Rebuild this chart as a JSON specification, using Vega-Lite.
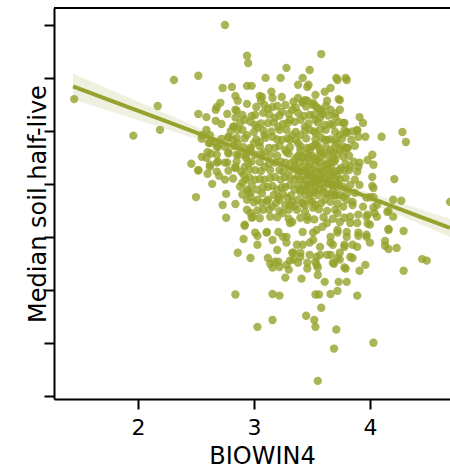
{
  "$schema": "https://vega.github.io/schema/vega-lite/v6.json",
  "autosize": "none",
  "width": 396,
  "height": 391,
  "padding": {"left": 54, "top": 8, "right": 0, "bottom": 67},
  "background": "white",
  "config": {
    "view": {"stroke": null},
    "axis": {
      "domainColor": "#000000", "domainWidth": 2,
      "tickColor": "#000000", "tickWidth": 2, "tickSize": 10,
      "grid": false,
      "labelFont": "DejaVu Sans", "labelFontSize": 22, "labelColor": "#000000",
      "titleFont": "DejaVu Sans", "titleFontSize": 24, "titleFontWeight": "normal", "titleColor": "#000000"
    }
  },
  "datasets": {
    "pts": [
      {"x":1.45,"y":5.60},{"x":1.96,"y":4.91},{"x":2.17,"y":5.47},{"x":2.19,"y":5.02},{"x":2.31,"y":5.96},{"x":2.52,"y":6.04},{"x":2.75,"y":7.00},{"x":2.94,"y":6.42},{"x":2.95,"y":6.28},{"x":3.58,"y":6.45},
      {"x":3.28,"y":6.19},{"x":3.48,"y":6.15},{"x":3.10,"y":6.00},{"x":3.23,"y":6.00},{"x":3.42,"y":6.00},{"x":3.71,"y":6.00},{"x":3.79,"y":6.00},{"x":2.73,"y":5.81},{"x":2.81,"y":5.83},{"x":2.94,"y":5.85},
      {"x":2.98,"y":5.85},{"x":3.38,"y":5.87},{"x":3.46,"y":5.83},{"x":3.47,"y":5.87},{"x":2.84,"y":5.66},{"x":2.71,"y":5.53},{"x":2.68,"y":5.45},{"x":2.67,"y":5.40},{"x":2.86,"y":5.57},{"x":2.52,"y":5.32},
      {"x":2.59,"y":5.26},{"x":2.77,"y":5.32},{"x":2.84,"y":5.40},{"x":2.67,"y":5.19},{"x":2.72,"y":5.13},{"x":2.84,"y":5.25},{"x":2.59,"y":5.02},{"x":2.83,"y":5.08},{"x":3.05,"y":5.66},{"x":3.06,"y":5.57},
      {"x":3.15,"y":5.74},{"x":3.16,"y":5.62},{"x":3.24,"y":5.64},{"x":3.38,"y":5.62},{"x":3.42,"y":5.55},{"x":3.46,"y":5.57},{"x":3.63,"y":5.57},{"x":3.74,"y":5.58},{"x":3.53,"y":5.47},{"x":3.57,"y":5.40},
      {"x":3.59,"y":5.32},{"x":3.91,"y":5.26},{"x":3.94,"y":5.15},{"x":3.78,"y":5.15},{"x":3.89,"y":5.00},{"x":3.80,"y":4.98},{"x":4.10,"y":4.89},{"x":4.28,"y":4.98},{"x":4.31,"y":4.79},{"x":4.21,"y":4.09},
      {"x":4.20,"y":3.70},{"x":4.27,"y":3.68},{"x":4.69,"y":3.66},{"x":4.02,"y":3.96},{"x":4.03,"y":3.92},{"x":3.91,"y":3.98},{"x":3.97,"y":3.74},{"x":4.03,"y":3.55},{"x":3.98,"y":3.42},{"x":4.06,"y":3.38},
      {"x":4.15,"y":3.47},{"x":4.16,"y":3.49},{"x":4.20,"y":3.38},{"x":3.98,"y":3.25},{"x":4.16,"y":3.13},{"x":4.16,"y":3.15},{"x":4.29,"y":3.11},{"x":3.97,"y":3.00},{"x":3.90,"y":3.02},{"x":4.13,"y":2.92},
      {"x":4.13,"y":2.83},{"x":4.16,"y":2.77},{"x":4.23,"y":2.79},{"x":3.85,"y":2.85},{"x":4.45,"y":2.58},{"x":4.49,"y":2.55},{"x":3.78,"y":2.81},{"x":4.29,"y":2.36},{"x":3.96,"y":2.47},{"x":3.91,"y":2.36},
      {"x":3.79,"y":2.40},{"x":3.69,"y":2.49},{"x":3.73,"y":2.15},{"x":3.80,"y":2.15},{"x":3.89,"y":1.89},{"x":3.72,"y":1.98},{"x":3.66,"y":1.92},{"x":3.61,"y":2.15},{"x":3.53,"y":1.91},{"x":3.56,"y":1.91},
      {"x":3.58,"y":1.66},{"x":3.55,"y":2.28},{"x":3.41,"y":2.21},{"x":3.46,"y":2.40},{"x":3.27,"y":2.23},{"x":3.30,"y":2.38},{"x":3.16,"y":1.92},{"x":3.22,"y":1.89},{"x":3.16,"y":1.43},{"x":3.03,"y":1.30},
      {"x":3.45,"y":1.51},{"x":3.52,"y":1.43},{"x":3.53,"y":1.30},{"x":3.71,"y":1.25},{"x":3.69,"y":0.89},{"x":4.03,"y":1.00},{"x":3.55,"y":0.28},{"x":2.84,"y":1.91},{"x":2.97,"y":2.60},{"x":2.91,"y":2.96},
      {"x":2.92,"y":3.21},{"x":2.76,"y":3.36},{"x":2.73,"y":3.60},{"x":2.84,"y":3.62},{"x":2.76,"y":3.81},{"x":2.50,"y":3.75},{"x":2.46,"y":4.38},{"x":2.52,"y":4.25},{"x":2.59,"y":4.49},{"x":2.63,"y":4.57},
      {"x":2.68,"y":4.40},{"x":2.62,"y":4.32},{"x":2.60,"y":4.19},{"x":2.68,"y":4.23},{"x":2.70,"y":4.15},{"x":2.64,"y":4.00},{"x":2.55,"y":4.85},{"x":2.61,"y":4.77},{"x":2.68,"y":4.70},{"x":2.78,"y":4.89},
      {"x":2.85,"y":4.87},{"x":2.77,"y":4.40},{"x":2.84,"y":4.32},{"x":2.89,"y":4.23},{"x":2.91,"y":4.17},{"x":2.93,"y":4.08},{"x":2.90,"y":4.02},{"x":2.94,"y":3.89},{"x":2.94,"y":3.70},{"x":2.97,"y":3.75},
      {"x":2.97,"y":3.45},{"x":2.98,"y":3.36},{"x":2.87,"y":4.55},{"x":2.93,"y":4.49},{"x":2.98,"y":4.42},{"x":2.97,"y":4.64},{"x":3.00,"y":4.77},{"x":3.12,"y":2.60},{"x":3.14,"y":2.49},{"x":3.18,"y":2.53},
      {"x":3.16,"y":2.42},{"x":3.22,"y":2.43},{"x":3.31,"y":2.55},{"x":3.34,"y":2.57},{"x":3.38,"y":2.51},{"x":3.53,"y":2.53},{"x":3.54,"y":2.62},{"x":3.55,"y":2.42},{"x":3.63,"y":2.66},{"x":3.72,"y":2.60},
      {"x":3.74,"y":2.57},{"x":3.85,"y":2.60},{"x":3.68,"y":2.51},{"x":3.03,"y":3.02},{"x":3.11,"y":3.09},{"x":3.03,"y":2.85},{"x":3.21,"y":3.09},{"x":3.28,"y":3.00},{"x":3.20,"y":2.75},{"x":3.34,"y":2.70},
      {"x":3.42,"y":2.85},{"x":3.51,"y":2.94},{"x":3.54,"y":3.13},{"x":3.63,"y":3.26},{"x":3.72,"y":3.08},{"x":3.80,"y":3.09},{"x":3.66,"y":2.89},{"x":3.74,"y":2.70},{"x":3.83,"y":2.62},{"x":3.57,"y":2.66},
      {"x":3.40,"y":2.62},{"x":3.31,"y":3.26},{"x":3.14,"y":3.38},{"x":3.25,"y":3.45},{"x":3.46,"y":3.38},{"x":3.72,"y":3.45},{"x":3.83,"y":3.38},{"x":3.89,"y":3.26},{"x":3.85,"y":3.66},{"x":3.77,"y":3.75},
      {"x":2.99,"y":3.38},{"x":3.08,"y":3.51},{"x":2.97,"y":3.83},{"x":3.90,"y":4.89},{"x":3.96,"y":4.89},{"x":4.02,"y":4.55},{"x":4.03,"y":4.36},{"x":4.02,"y":4.13},{"x":3.89,"y":4.23},{"x":3.91,"y":4.40},
      {"x":2.94,"y":5.51},{"x":3.07,"y":5.64},{"x":3.34,"y":5.55},{"x":3.44,"y":5.58},{"x":3.51,"y":5.49},{"x":2.85,"y":5.38},{"x":2.82,"y":5.08},{"x":2.92,"y":5.21},{"x":3.01,"y":5.30},{"x":3.08,"y":5.34},
      {"x":3.16,"y":5.45},{"x":3.24,"y":5.36},{"x":3.33,"y":5.40},{"x":3.38,"y":5.34},{"x":3.53,"y":5.21},{"x":2.55,"y":4.92},{"x":2.62,"y":4.92},{"x":2.66,"y":4.79},{"x":2.78,"y":4.87},{"x":2.86,"y":5.02},
      {"x":2.94,"y":4.92},{"x":3.03,"y":5.06},{"x":3.12,"y":5.15},{"x":3.21,"y":5.08},{"x":3.29,"y":5.15},{"x":3.44,"y":5.08},{"x":3.53,"y":4.96},{"x":2.62,"y":4.77},{"x":2.60,"y":4.60},{"x":2.69,"y":4.70},
      {"x":2.78,"y":4.60},{"x":2.86,"y":4.77},{"x":2.97,"y":4.68},{"x":3.05,"y":4.79},{"x":3.16,"y":4.89},{"x":3.24,"y":4.83},{"x":3.33,"y":4.92},{"x":3.38,"y":4.77},{"x":3.50,"y":4.70},{"x":2.55,"y":4.51},
      {"x":2.62,"y":4.36},{"x":2.69,"y":4.42},{"x":2.85,"y":4.55},{"x":3.01,"y":4.55},{"x":3.09,"y":4.60},{"x":3.18,"y":4.68},{"x":3.28,"y":4.60},{"x":3.37,"y":4.51},{"x":3.47,"y":4.51},{"x":3.54,"y":4.45},
      {"x":2.52,"y":4.26},{"x":2.84,"y":4.30},{"x":2.92,"y":4.32},{"x":3.01,"y":4.26},{"x":3.09,"y":4.32},{"x":3.18,"y":4.40},{"x":3.27,"y":4.40},{"x":3.35,"y":4.32},{"x":3.44,"y":4.26},{"x":3.53,"y":4.23},
      {"x":2.75,"y":4.08},{"x":3.01,"y":4.08},{"x":3.09,"y":4.08},{"x":3.18,"y":4.13},{"x":3.27,"y":4.13},{"x":3.35,"y":4.08},{"x":3.44,"y":4.08},{"x":3.53,"y":4.02},{"x":3.03,"y":3.89},{"x":3.12,"y":3.94},
      {"x":3.20,"y":3.89},{"x":3.27,"y":3.94},{"x":3.35,"y":3.89},{"x":3.44,"y":3.89},{"x":3.51,"y":3.83},{"x":3.03,"y":3.70},{"x":3.12,"y":3.70},{"x":3.21,"y":3.75},{"x":3.29,"y":3.74},{"x":3.38,"y":3.70},
      {"x":3.48,"y":3.70},{"x":3.07,"y":3.64},{"x":3.16,"y":3.57},{"x":3.27,"y":3.60},{"x":3.35,"y":3.58},{"x":3.44,"y":3.60},{"x":3.53,"y":3.60},{"x":3.72,"y":5.96},{"x":3.80,"y":5.96},{"x":3.73,"y":5.60},
      {"x":3.42,"y":5.53},{"x":3.51,"y":5.53},{"x":3.59,"y":5.36},{"x":3.70,"y":5.26},{"x":3.77,"y":5.15},{"x":3.68,"y":5.11},{"x":3.80,"y":4.96},{"x":3.89,"y":5.02},{"x":3.74,"y":4.92},{"x":3.81,"y":4.68},
      {"x":3.72,"y":4.77},{"x":3.68,"y":4.60},{"x":3.77,"y":4.51},{"x":3.98,"y":4.45},{"x":3.83,"y":4.32},{"x":3.90,"y":4.32},{"x":3.87,"y":3.83},{"x":3.80,"y":3.70},{"x":4.00,"y":3.75},{"x":3.85,"y":3.60},
      {"x":4.06,"y":3.60},{"x":3.77,"y":4.70},{"x":3.57,"y":5.02},{"x":3.63,"y":4.83},{"x":3.57,"y":4.58},{"x":3.66,"y":4.40},{"x":3.68,"y":4.21},{"x":3.57,"y":4.08},{"x":3.72,"y":3.94},{"x":3.66,"y":3.79},
      {"x":3.74,"y":3.79},{"x":3.77,"y":3.57},{"x":2.95,"y":3.85},{"x":2.94,"y":3.51},{"x":2.92,"y":3.23},{"x":3.01,"y":3.08},{"x":3.11,"y":3.08},{"x":3.25,"y":3.00},{"x":3.16,"y":2.94},{"x":3.22,"y":3.70},
      {"x":3.31,"y":3.60},{"x":3.37,"y":3.51},{"x":3.42,"y":3.64},{"x":3.51,"y":3.55},{"x":3.33,"y":3.28},{"x":3.46,"y":3.32},{"x":3.42,"y":3.09},{"x":3.51,"y":3.08},{"x":3.59,"y":3.19},{"x":3.66,"y":3.00},
      {"x":3.72,"y":3.13},{"x":3.80,"y":3.00},{"x":3.74,"y":3.28},{"x":3.83,"y":3.26},{"x":3.90,"y":3.08},{"x":3.97,"y":3.04},{"x":4.00,"y":2.89},{"x":3.89,"y":2.81},{"x":3.78,"y":2.85},{"x":3.68,"y":2.85},
      {"x":3.57,"y":2.81},{"x":3.48,"y":2.89},{"x":3.37,"y":2.85},{"x":3.28,"y":2.89},{"x":3.33,"y":2.70},{"x":3.21,"y":2.53},{"x":3.40,"y":2.70},{"x":3.48,"y":2.66},{"x":3.66,"y":2.66},{"x":2.86,"y":2.70},
      {"x":3.28,"y":2.47},{"x":3.46,"y":2.51},{"x":3.54,"y":2.47},{"x":3.78,"y":2.42},{"x":3.90,"y":3.42},{"x":3.97,"y":3.38},{"x":4.04,"y":3.45},{"x":4.00,"y":3.23},{"x":4.03,"y":3.75},{"x":3.94,"y":3.57},
      {"x":3.40,"y":4.64},{"x":3.48,"y":4.64},{"x":3.57,"y":4.64},{"x":3.66,"y":4.64},{"x":3.74,"y":4.64},{"x":3.35,"y":4.45},{"x":3.44,"y":4.42},{"x":3.53,"y":4.36},{"x":3.61,"y":4.36},{"x":3.70,"y":4.45},
      {"x":3.78,"y":4.26},{"x":3.40,"y":4.23},{"x":3.48,"y":4.17},{"x":3.57,"y":4.23},{"x":3.66,"y":4.11},{"x":3.74,"y":4.08},{"x":3.83,"y":3.98},{"x":3.31,"y":3.98},{"x":3.48,"y":3.98},{"x":3.57,"y":3.89},
      {"x":3.66,"y":3.98},{"x":3.74,"y":4.26},{"x":3.53,"y":4.74},{"x":3.61,"y":4.83},{"x":3.70,"y":4.83},{"x":3.78,"y":4.64},{"x":3.27,"y":4.64},{"x":3.31,"y":4.26},{"x":3.40,"y":3.89},{"x":3.22,"y":4.26},
      {"x":3.14,"y":4.55},{"x":3.22,"y":5.02},{"x":3.31,"y":4.83},{"x":3.40,"y":5.21},{"x":3.48,"y":5.30},{"x":3.57,"y":5.25},{"x":3.66,"y":5.40},{"x":3.74,"y":5.40},{"x":3.61,"y":5.11},{"x":3.48,"y":5.02},
      {"x":3.40,"y":4.92},{"x":3.53,"y":4.11},{"x":3.70,"y":3.79},{"x":3.61,"y":3.70},{"x":3.44,"y":3.79},{"x":3.09,"y":5.49},{"x":3.27,"y":5.49},{"x":3.18,"y":5.25},{"x":3.31,"y":5.21},{"x":3.01,"y":5.11},
      {"x":3.09,"y":4.92},{"x":3.61,"y":5.74},{"x":3.53,"y":5.68},{"x":3.66,"y":5.81},
      {"x":3.02,"y":5.45},{"x":3.12,"y":5.42},{"x":3.20,"y":5.47},{"x":3.36,"y":5.44},{"x":3.45,"y":5.46},{"x":3.55,"y":5.43},{"x":3.62,"y":5.47},
      {"x":2.90,"y":5.30},{"x":2.98,"y":5.28},{"x":3.13,"y":5.31},{"x":3.22,"y":5.29},{"x":3.30,"y":5.32},{"x":3.43,"y":5.28},{"x":3.52,"y":5.31},{"x":3.64,"y":5.29},{"x":3.70,"y":5.33},
      {"x":2.88,"y":5.15},{"x":2.97,"y":5.17},{"x":3.06,"y":5.14},{"x":3.17,"y":5.16},{"x":3.25,"y":5.13},{"x":3.35,"y":5.17},{"x":3.47,"y":5.14},{"x":3.55,"y":5.16},{"x":3.66,"y":5.13},{"x":3.73,"y":5.17},
      {"x":2.80,"y":5.00},{"x":2.90,"y":5.02},{"x":3.00,"y":4.98},{"x":3.08,"y":5.01},{"x":3.15,"y":4.99},{"x":3.28,"y":5.02},{"x":3.36,"y":4.98},{"x":3.44,"y":5.01},{"x":3.52,"y":4.99},{"x":3.62,"y":5.02},{"x":3.70,"y":4.98},{"x":3.78,"y":5.01},{"x":3.85,"y":4.99},
      {"x":2.72,"y":4.85},{"x":2.82,"y":4.83},{"x":2.92,"y":4.86},{"x":3.02,"y":4.84},{"x":3.10,"y":4.87},{"x":3.20,"y":4.84},{"x":3.29,"y":4.86},{"x":3.36,"y":4.83},{"x":3.45,"y":4.86},{"x":3.53,"y":4.84},{"x":3.58,"y":4.87},{"x":3.66,"y":4.84},{"x":3.76,"y":4.86},{"x":3.84,"y":4.83},
      {"x":2.75,"y":4.70},{"x":2.83,"y":4.72},{"x":2.91,"y":4.69},{"x":3.05,"y":4.71},{"x":3.13,"y":4.68},{"x":3.22,"y":4.72},{"x":3.31,"y":4.69},{"x":3.40,"y":4.71},{"x":3.46,"y":4.68},{"x":3.55,"y":4.72},{"x":3.62,"y":4.69},{"x":3.70,"y":4.71},{"x":3.80,"y":4.68},{"x":3.87,"y":4.72},
      {"x":2.68,"y":4.55},{"x":2.78,"y":4.57},{"x":2.93,"y":4.54},{"x":3.06,"y":4.56},{"x":3.20,"y":4.53},{"x":3.30,"y":4.57},{"x":3.39,"y":4.54},{"x":3.45,"y":4.56},{"x":3.50,"y":4.53},{"x":3.60,"y":4.57},{"x":3.64,"y":4.54},{"x":3.72,"y":4.56},{"x":3.82,"y":4.53},
      {"x":2.75,"y":4.40},{"x":2.85,"y":4.42},{"x":2.95,"y":4.39},{"x":3.05,"y":4.41},{"x":3.13,"y":4.38},{"x":3.23,"y":4.42},{"x":3.32,"y":4.39},{"x":3.39,"y":4.41},{"x":3.48,"y":4.38},{"x":3.56,"y":4.42},{"x":3.63,"y":4.39},{"x":3.69,"y":4.41},{"x":3.79,"y":4.38},{"x":3.86,"y":4.42},
      {"x":2.78,"y":4.25},{"x":2.96,"y":4.27},{"x":3.06,"y":4.24},{"x":3.14,"y":4.26},{"x":3.25,"y":4.23},{"x":3.36,"y":4.27},{"x":3.45,"y":4.24},{"x":3.50,"y":4.26},{"x":3.60,"y":4.23},{"x":3.64,"y":4.27},{"x":3.70,"y":4.24},{"x":3.82,"y":4.26},
      {"x":2.82,"y":4.10},{"x":2.96,"y":4.12},{"x":3.05,"y":4.09},{"x":3.14,"y":4.11},{"x":3.23,"y":4.08},{"x":3.31,"y":4.12},{"x":3.40,"y":4.09},{"x":3.50,"y":4.11},{"x":3.55,"y":4.08},{"x":3.61,"y":4.12},{"x":3.70,"y":4.09},{"x":3.79,"y":4.11},{"x":3.87,"y":4.08},
      {"x":2.88,"y":3.95},{"x":2.98,"y":3.97},{"x":3.08,"y":3.94},{"x":3.16,"y":3.96},{"x":3.24,"y":3.93},{"x":3.38,"y":3.97},{"x":3.46,"y":3.94},{"x":3.53,"y":3.96},{"x":3.60,"y":3.93},{"x":3.68,"y":3.97},{"x":3.77,"y":3.94},
      {"x":2.90,"y":3.80},{"x":3.07,"y":3.82},{"x":3.17,"y":3.79},{"x":3.25,"y":3.81},{"x":3.32,"y":3.78},{"x":3.48,"y":3.82},{"x":3.55,"y":3.79},{"x":3.63,"y":3.81},{"x":3.70,"y":3.78},{"x":3.80,"y":3.82},
      {"x":3.00,"y":3.65},{"x":3.11,"y":3.67},{"x":3.19,"y":3.64},{"x":3.33,"y":3.66},{"x":3.42,"y":3.63},{"x":3.50,"y":3.67},{"x":3.58,"y":3.64},{"x":3.66,"y":3.66},{"x":3.72,"y":3.63},
      {"x":3.03,"y":3.50},{"x":3.13,"y":3.52},{"x":3.22,"y":3.49},{"x":3.30,"y":3.51},{"x":3.44,"y":3.48},{"x":3.56,"y":3.52},{"x":3.63,"y":3.49},{"x":3.70,"y":3.51},
      {"x":3.05,"y":3.35},{"x":3.20,"y":3.37},{"x":3.30,"y":3.34},{"x":3.40,"y":3.36},{"x":3.52,"y":3.33},{"x":3.60,"y":3.37},{"x":3.68,"y":3.34},{"x":3.78,"y":3.36},
      {"x":3.42,"y":4.50},{"x":3.52,"y":4.48},{"x":3.58,"y":4.51},{"x":3.68,"y":4.49},{"x":3.41,"y":4.30},{"x":3.47,"y":4.32},{"x":3.58,"y":4.29},{"x":3.66,"y":4.31},{"x":3.75,"y":4.30},
      {"x":3.38,"y":4.15},{"x":3.46,"y":4.16},{"x":3.58,"y":4.14},{"x":3.65,"y":4.16},{"x":3.72,"y":4.15},{"x":3.43,"y":4.00},{"x":3.50,"y":4.02},{"x":3.58,"y":3.99},{"x":3.64,"y":4.01},{"x":3.72,"y":4.00},
      {"x":3.40,"y":3.85},{"x":3.52,"y":3.86},{"x":3.60,"y":3.84},{"x":3.68,"y":3.86}
    ],
    "fit": [
      {"x":1.44,"fit":5.840,"lo":5.595,"hi":6.085},
      {"x":1.80,"fit":5.544,"lo":5.344,"hi":5.744},
      {"x":2.20,"fit":5.215,"lo":5.064,"hi":5.366},
      {"x":2.60,"fit":4.886,"lo":4.783,"hi":4.989},
      {"x":3.00,"fit":4.558,"lo":4.498,"hi":4.618},
      {"x":3.35,"fit":4.270,"lo":4.230,"hi":4.310},
      {"x":3.70,"fit":3.982,"lo":3.922,"hi":4.042},
      {"x":4.10,"fit":3.654,"lo":3.551,"hi":3.757},
      {"x":4.40,"fit":3.407,"lo":3.268,"hi":3.546},
      {"x":4.69,"fit":3.169,"lo":2.995,"hi":3.343}
    ]
  },
  "layer": [
    {
      "data": {"name": "pts"},
      "mark": {"type": "circle", "size": 70, "color": "#96a22c", "opacity": 0.8},
      "encoding": {
        "x": {"field": "x", "type": "quantitative",
              "scale": {"domain": [1.276, 4.69], "nice": false, "zero": false},
              "axis": {"values": [2, 3, 4], "format": "d", "labelPadding": 8, "title": "BIOWIN4",
                       "titleX": 208, "titleY": 64, "titleBaseline": "alphabetic", "titleAlign": "center"}},
        "y": {"field": "y", "type": "quantitative",
              "scale": {"domain": [-0.062, 7.32], "nice": false, "zero": false},
              "axis": {"values": [0, 1, 2, 3, 4, 5, 6, 7], "labels": false, "title": "Median soil half-live",
                       "titleX": -9, "titleY": 195.5, "titleAngle": -90, "titleBaseline": "alphabetic", "titleAlign": "center"}}
      }
    },
    {
      "data": {"name": "fit"},
      "mark": {"type": "area", "color": "#96a22c", "opacity": 0.15},
      "encoding": {
        "x": {"field": "x", "type": "quantitative"},
        "y": {"field": "lo", "type": "quantitative"},
        "y2": {"field": "hi"}
      }
    },
    {
      "data": {"name": "fit"},
      "mark": {"type": "line", "color": "#96a22c", "strokeWidth": 4},
      "encoding": {
        "x": {"field": "x", "type": "quantitative"},
        "y": {"field": "fit", "type": "quantitative"}
      }
    },
    {
      "data": {"values": [{}]},
      "mark": {"type": "rule", "color": "#000000", "strokeWidth": 2},
      "encoding": {"y": {"datum": 7.32}}
    }
  ]
}
